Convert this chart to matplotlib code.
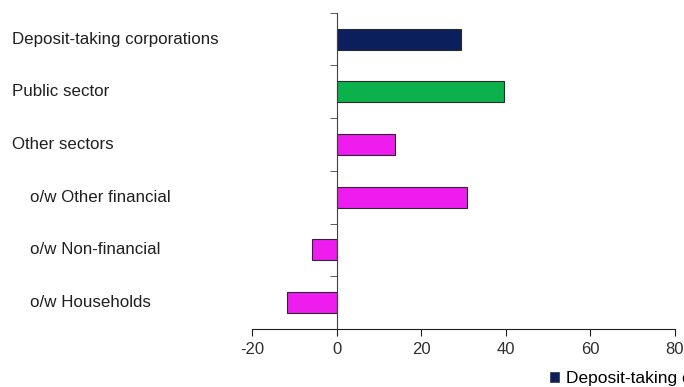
import matplotlib.pyplot as plt
from matplotlib.transforms import blended_transform_factory
from matplotlib.patches import Patch

# Data
categories = ["Deposit-taking corporations", "Public sector", "Other sectors",
              "o/w Other financial", "o/w Non-financial", "o/w Households"]
values = [29.5, 39.5, 13.8, 30.8, -5.9, -11.8]
bar_colors = ["#0a1f5c", "#0db14b", "#ee1cee", "#ee1cee", "#ee1cee", "#ee1cee"]
indent = [False, False, False, True, True, True]
x_ticks = [-20, 0, 20, 40, 60, 80]

plt.rcParams['font.family'] = ['Liberation Sans', 'DejaVu Sans']

fig = plt.figure(figsize=(6.84, 3.87), dpi=100)
ax = fig.add_axes([252 / 684, 58 / 387, 423 / 684, (329 - 12.7) / 387])

pos = list(range(len(categories)))
ax.barh(pos, values, height=0.4, color=bar_colors, edgecolor="#2a2a2a", linewidth=0.8)

ax.set_xlim(-20, 80)
ax.set_ylim(len(categories) - 0.5, -0.5)

# axis styling
for s in ["top", "right"]:
    ax.spines[s].set_visible(False)
ax.spines["left"].set_position(("data", 0))
ax.spines["left"].set_color("#404040")
ax.spines["bottom"].set_color("#202020")

ax.set_xticks(x_ticks)
ax.set_xticklabels([str(t) for t in x_ticks], fontsize=12, color="#303030")
ax.tick_params(axis="x", direction="out", length=5, pad=4, color="#202020")

ax.set_yticks(pos)
ax.set_yticklabels([])
ax.tick_params(axis="y", which="major", length=0)
ax.set_yticks([p - 0.5 for p in pos], minor=True)
ax.tick_params(axis="y", which="minor", direction="out", length=5, color="#404040")

# category labels on the far left
trans = blended_transform_factory(fig.transFigure, ax.transData)
for p, label, ind in zip(pos, categories, indent):
    x = 30 / 684 if ind else 12 / 684
    ax.text(x, p, label, transform=trans, ha="left", va="center",
            fontsize=12.2, color="#202020")

# legend, clipped at the right edge like the original
handles = [Patch(facecolor=bar_colors[0], edgecolor="#333333", linewidth=0.5)]
fig.legend(handles, [categories[0]], loc="center left",
           bbox_to_anchor=(550 / 684, 1 - 379 / 387), frameon=False,
           fontsize=12.5, handlelength=0.5, handleheight=0.5, handletextpad=0.4,
           borderpad=0, borderaxespad=0)

fig.savefig("out.png", dpi=100)
